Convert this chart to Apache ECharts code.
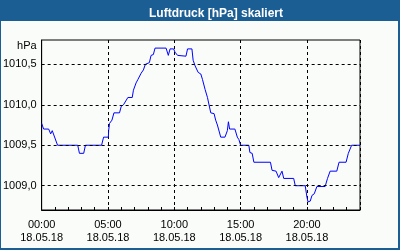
<!DOCTYPE html>
<html><head><meta charset="utf-8">
<script src="https://cdn.jsdelivr.net/npm/echarts@6/dist/echarts.min.js"></script>
<style>html,body{margin:0;padding:0;background:#1b5e94;}#c{width:400px;height:250px;}</style>
</head><body><div id="c"></div>
<script>
var titleText = 'Luftdruck [hPa] skaliert';
var unitLabel = 'hPa';
var dateLabel = '18.05.18';
var hours = [0,0.15,0.53,0.68,0.8,1.2,2.72,2.85,3.17,3.3,4.52,4.67,5.03,5.05,5.12,5.3,5.45,5.87,6.0,6.17,6.5,6.83,6.92,7.12,7.25,7.5,7.67,7.82,8.12,8.25,8.42,8.55,9.38,9.55,9.68,9.95,10.05,10.25,10.88,11.0,11.33,11.42,11.57,11.8,12.0,12.13,12.32,12.5,12.62,12.75,13.0,13.12,13.25,13.5,13.82,14.0,14.08,14.17,14.57,14.75,14.87,15.0,15.62,15.7,15.87,16.0,17.25,17.37,17.67,17.87,18.0,18.12,18.25,19.0,19.12,19.87,20.0,20.08,20.25,20.38,20.55,20.75,21.37,21.55,21.75,22.25,22.42,22.95,23.12,23.37,24.0];
var pressure = [1009.77,1009.70,1009.70,1009.64,1009.68,1009.50,1009.50,1009.40,1009.40,1009.50,1009.50,1009.60,1009.60,1009.68,1009.77,1009.81,1009.90,1009.90,1009.98,1010.00,1010.09,1010.09,1010.18,1010.27,1010.31,1010.39,1010.43,1010.50,1010.52,1010.61,1010.62,1010.70,1010.70,1010.61,1010.69,1010.69,1010.65,1010.61,1010.60,1010.69,1010.69,1010.55,1010.48,1010.40,1010.38,1010.31,1010.19,1010.09,1010.08,1009.90,1009.89,1009.81,1009.75,1009.60,1009.60,1009.68,1009.79,1009.70,1009.70,1009.60,1009.57,1009.50,1009.50,1009.41,1009.40,1009.29,1009.29,1009.19,1009.18,1009.10,1009.10,1009.18,1009.09,1009.09,1009.00,1009.00,1008.86,1008.80,1008.81,1008.88,1008.90,1008.99,1008.99,1009.09,1009.18,1009.18,1009.29,1009.29,1009.40,1009.50,1009.50];
var yGridValues = [1009.0,1009.5,1010.0,1010.5];
var xMin = 0, xMax = 24, yMin = 1008.7, yMax = 1010.8;

var pts = hours.map(function(h,i){return [h, pressure[i]];});
function pad(n){return (n<10?'0':'')+n;}
var font = '"Liberation Sans", Arial, sans-serif';
var chart = echarts.init(document.getElementById('c'), null, {renderer:'canvas'});
chart.setOption({
  backgroundColor:'#1b5e94',
  animation:false,
  graphic:[{type:'rect', z:-10, silent:true, shape:{x:1,y:21,width:397,height:227}, style:{fill:'#f9fcf9'}}],
  title:{text:titleText, left:211, top:3, textAlign:'center',
    textStyle:{color:'#ffffff', fontFamily:font, fontSize:12, fontWeight:'bold'}},
  grid:{left:40, right:40, top:40, bottom:40, show:true, borderColor:'#000', borderWidth:1, backgroundColor:'transparent'},
  xAxis:[{type:'value', min:xMin, max:xMax, interval:5,
    axisLine:{show:true, onZero:false, lineStyle:{color:'#000', width:1}},
    axisTick:{show:false},
    splitLine:{show:true, lineStyle:{color:'#000', type:[3,3], width:1}},
    axisLabel:{showMaxLabel:false, color:'#000', fontFamily:font, fontSize:11, lineHeight:13.5, margin:8,
      formatter:function(v){return pad(Math.round(v))+':00\n'+dateLabel;}}},
    {type:'value', min:xMin, max:xMax, interval:1, position:'bottom',
    axisLine:{show:false}, splitLine:{show:false}, axisLabel:{show:false},
    axisTick:{show:true, inside:true, length:3, lineStyle:{color:'#000'}}}],
  yAxis:{type:'value', min:yMin, max:yMax, interval:0.1,
    name:unitLabel, nameLocation:'end', nameGap:-6,
    nameTextStyle:{color:'#000', fontFamily:font, fontSize:11, align:'right', verticalAlign:'middle', padding:[0,5,0,0]},
    axisLine:{show:true, onZero:false, lineStyle:{color:'#000', width:1}},
    axisTick:{show:false}, splitLine:{show:false},
    axisLabel:{color:'#000', fontFamily:font, fontSize:11, margin:5,
      formatter:function(v){var r=Math.round(v*2)/2; return Math.abs(r-v)<1e-6 ? r.toFixed(1).replace('.',',') : '';}}},
  series:[
    {type:'line', z:1, data:pts, showSymbol:false, silent:true, lineStyle:{opacity:0},
     markLine:{silent:true, symbol:'none', label:{show:false},
       lineStyle:{color:'#000', type:[3,3], width:1},
       data:yGridValues.map(function(v){return {yAxis:v};})}},
    {type:'line', z:2, data:pts, showSymbol:false, silent:true, clip:true,
     lineStyle:{color:'#0000ff', width:1}}
  ]
});
</script></body></html>
